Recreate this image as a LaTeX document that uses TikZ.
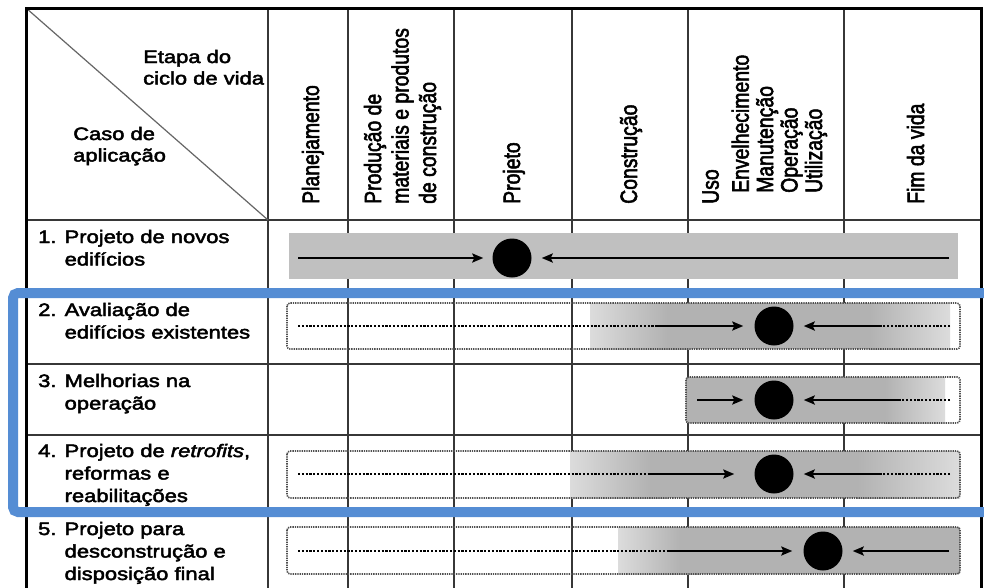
\documentclass[tikz,border=0pt]{standalone}
\usepackage{fontspec}
\usepackage{graphicx}
\setmainfont{Liberation Sans}
\newfontfamily\widefont[FakeStretch=1.22,FakeBold=2.6]{Liberation Sans}
\newfontfamily\stagefont[FakeBold=2.6]{Liberation Sans}
\usetikzlibrary{arrows.meta}

\definecolor{frameblue}{RGB}{85,141,212}
\definecolor{gridgray}{RGB}{55,55,55}
\definecolor{barflat}{RGB}{192,192,192}
\definecolor{barmid}{RGB}{178,178,178}
\definecolor{bardark}{RGB}{160,160,160}
\definecolor{barlight}{RGB}{220,220,220}
\definecolor{dotgray}{RGB}{80,80,80}

% multi-line labels: baseline on the first line
\newcommand\labeltext[1]{\begin{tabular}[t]{@{}l@{}}#1\end{tabular}}
% vertical stage headings: #1 = line spacing, #2 = lines
\newcommand\stagetext[2]{\scalebox{1}[1.22]{\stagefont\fontsize{19.4}{#1}\selectfont\begin{tabular}[b]{@{}l@{}}#2\end{tabular}}}

\tikzset{
  thinrule/.style={draw=gridgray, line width=1.4pt},
  thickrule/.style={draw=black, line width=3pt},
  rowlabel/.style={anchor=base west, inner sep=0pt, font=\widefont\fontsize{18}{22.5}\selectfont},
  cornerlabel/.style={anchor=base west, inner sep=0pt, font=\widefont\fontsize{18}{21.5}\selectfont},
  stagehead/.style={rotate=90, anchor=base west, inner sep=0pt},
  scopebox/.style={draw=dotgray, line width=1.6pt, dash pattern=on 1.3pt off 1pt, rounded corners=3pt},
  dotline/.style={line width=2.6pt, dash pattern=on 2.2pt off 1.6pt},
  arrowline/.style={line width=2.6pt, -{Stealth[length=11pt,width=9pt,inset=2pt]}},
  point/.style={circle, fill=black, minimum size=39pt, inner sep=0pt},
}

\begin{document}
\begin{tikzpicture}[x=1pt,y=-1pt]
\useasboundingbox (0,0) rectangle (984,587);
\clip (0,0) rectangle (984,587);
\fill[white] (0,0) rectangle (984,587);

% ---- table grid ----
\foreach \yy in {220,292,364,435,515}
  \draw[thinrule] (26,\yy) -- (981,\yy);
\foreach \xx in {268,348,454,572,688,844}
  \draw[thinrule] (\xx,8) -- (\xx,600);
\draw[gray!80!black, line width=1.2pt] (26,8) -- (268,220);
\draw[thickrule] (26,600) -- (26,8) -- (981,8) -- (981,600);

% ---- corner headings ----
\node[cornerlabel] (etapa) at (143,63) {\labeltext{Etapa do\\ciclo de vida}};
\node[cornerlabel] (caso) at (73,140) {\labeltext{Caso de\\aplicação}};

% ---- life-cycle stages ----
\node[stagehead] (h1) at (319,204) {\stagetext{20}{Planejamento}};
\node[stagehead] (h2) at (436,204) {\stagetext{22.5}{Produção de\\materiais e produtos\\de construção}};
\node[stagehead] (h3) at (520,204) {\stagetext{20}{Projeto}};
\node[stagehead] (h4) at (637,204) {\stagetext{20}{Construção}};
\node[stagehead] (h5) at (822,204) {\stagetext{20}{Uso\\[4.6pt]\hspace*{11pt}Envelhecimento\\\hspace*{11pt}Manutenção\\\hspace*{11pt}Operação\\\hspace*{11pt}Utilização}};
\node[stagehead] (h6) at (924,204) {\stagetext{20}{Fim da vida}};

% ---- application cases ----
\node[rowlabel] (r1) at (38,243) {\labeltext{1. Projeto de novos\\\phantom{1. }edifícios}};
\node[rowlabel] (r2) at (38,316) {\labeltext{2. Avaliação de\\\phantom{2. }edifícios existentes}};
\node[rowlabel] (r3) at (38,387) {\labeltext{3. Melhorias na\\\phantom{3. }operação}};
\node[rowlabel] (r4) at (38,457) {\labeltext{4. Projeto de \textit{retrofits},\\\phantom{4. }reformas e\\\phantom{4. }reabilitações}};
\node[rowlabel] (r5) at (38,535) {\labeltext{5. Projeto para\\\phantom{5. }desconstrução e\\\phantom{5. }disposição final}};

% ---- case 1 ----
\fill[barflat] (289,233) rectangle (958,279);
\node[point] (c1) at (512,258) {};
\coordinate (a1) at (298,258);
\coordinate (b1) at (949,258);
\draw[arrowline, shorten >=9pt] (a1) -- (c1);
\draw[arrowline, shorten >=10pt] (b1) -- (c1);

% ---- case 2 ----
\shade[left color=barlight, right color=barmid] (590,303) rectangle (667.5,349);
\shade[left color=barmid, middle color=bardark, right color=barmid] (667,303) rectangle (690.5,349);
\fill[barmid] (690,303) rectangle (870.5,349);
\shade[left color=barmid, right color=barlight] (870,303) rectangle (950,349);
\draw[scopebox] (287,303) rectangle (960,349);
\node[point] (c2) at (774,326) {};
\coordinate (d2) at (298,326);
\coordinate (m2) at (657,326);
\coordinate (e2) at (950,326);
\coordinate (n2) at (882,326);
\draw[dotline] (d2) -- (m2);
\draw[arrowline, shorten >=11pt] (m2) -- (c2);
\draw[dotline] (e2) -- (n2);
\draw[arrowline, shorten >=10pt] (n2) -- (c2);

% ---- case 3 ----
\fill[barmid] (686,377) rectangle (885.5,423);
\shade[left color=barmid, right color=barlight] (885,377) rectangle (945,423);
\draw[scopebox] (686,377) rectangle (960,423);
\node[point] (c3) at (774,400) {};
\coordinate (m3) at (697,400);
\coordinate (n3) at (900,400);
\coordinate (e3) at (950,400);
\draw[arrowline, shorten >=11pt] (m3) -- (c3);
\draw[dotline] (e3) -- (n3);
\draw[arrowline, shorten >=10pt] (n3) -- (c3);

% ---- case 4 ----
\shade[left color=barlight, right color=barmid] (570,451) rectangle (650.5,498);
\shade[left color=barmid, middle color=bardark, right color=barmid] (650,451) rectangle (668.5,498);
\fill[barmid] (668,451) rectangle (857.5,498);
\shade[left color=barmid, right color=barlight] (857,451) rectangle (960,498);
\draw[scopebox] (287,451) rectangle (960,498);
\node[point] (c4) at (774,474) {};
\coordinate (d4) at (298,474);
\coordinate (m4) at (648,474);
\coordinate (e4) at (950,474);
\coordinate (n4) at (882,474);
\draw[dotline] (d4) -- (m4);
\draw[arrowline, shorten >=20pt] (m4) -- (c4);
\draw[dotline] (e4) -- (n4);
\draw[arrowline, shorten >=10pt] (n4) -- (c4);

% ---- case 5 ----
\shade[left color=barlight, right color=barmid] (618,527) rectangle (680.5,574);
\shade[left color=barmid, middle color=bardark, right color=barmid] (680,527) rectangle (700.5,574);
\fill[barmid] (700,527) rectangle (960,574);
\draw[scopebox] (287,527) rectangle (960,574);
\node[point] (c5) at (823,551) {};
\coordinate (d5) at (298,551);
\coordinate (m5) at (668,551);
\coordinate (b5) at (949,551);
\draw[dotline] (d5) -- (m5);
\draw[arrowline, shorten >=11pt] (m5) -- (c5);
\draw[arrowline, shorten >=10pt] (b5) -- (c5);

% ---- highlight frame around cases 2 to 4 ----
\draw[frameblue, line width=10pt, rounded corners=5pt] (13,293) rectangle (1000,512);
\end{tikzpicture}
\end{document}
